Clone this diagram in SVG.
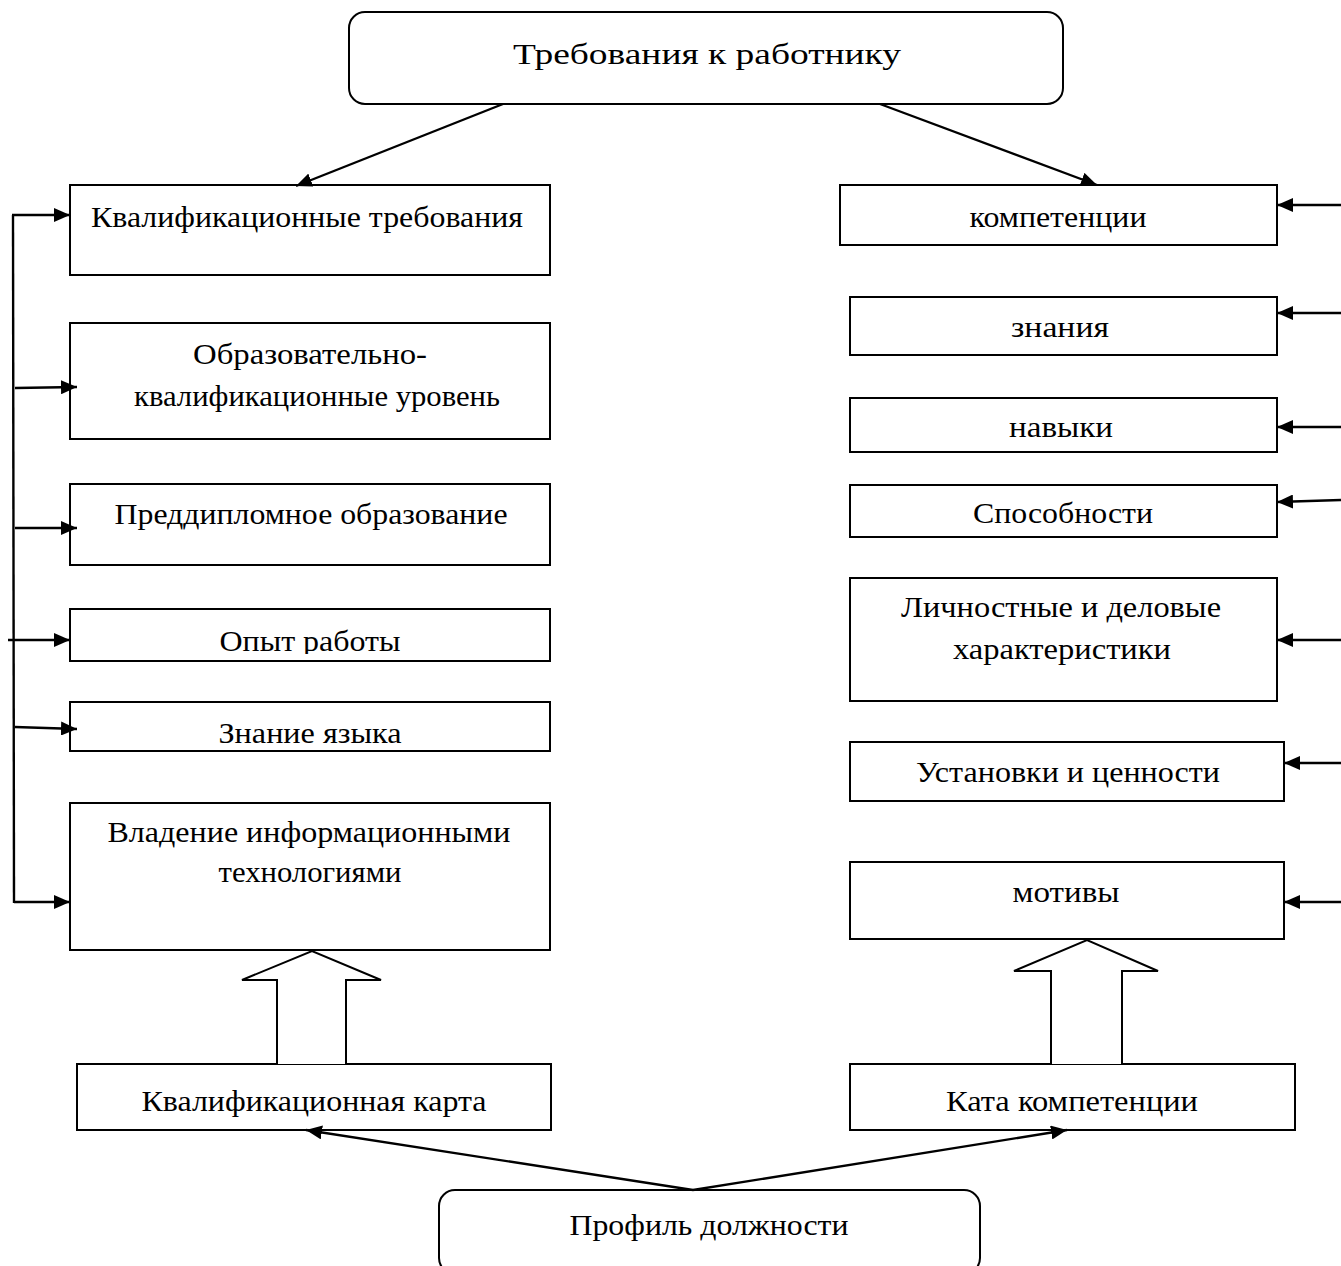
<svg xmlns="http://www.w3.org/2000/svg" width="1341" height="1266" viewBox="0 0 1341 1266">
<style>
.box{fill:#fff;stroke:#000;stroke-width:2}
.t{font-family:"Liberation Serif","Times New Roman",serif;font-size:30px;fill:#000;text-anchor:middle}
.c{fill:none;stroke:#000;stroke-width:2.4}
.blk{fill:#fff;stroke:#000;stroke-width:2;stroke-linejoin:miter}
</style>
<defs>
<marker id="ah" markerUnits="userSpaceOnUse" markerWidth="18" markerHeight="14" refX="16" refY="7" orient="auto">
<path d="M0,0 L16,7 L0,14 Z" fill="#000"/>
</marker>
<clipPath id="clipOpyt"><rect x="70" y="600" width="480" height="54"/></clipPath>
</defs>
<rect width="1341" height="1266" fill="#fff"/>

<g id="top">
<rect class="box" x="349" y="12" width="714" height="92" rx="16"/>
<text class="t" x="707" y="64" font-size="38" textLength="388" lengthAdjust="spacingAndGlyphs">Требования к работнику</text>
</g>

<g id="kvalif-treb">
<rect class="box" x="70" y="185" width="480" height="90"/>
<text class="t" x="307" y="227" textLength="432" lengthAdjust="spacingAndGlyphs">Квалификационные требования</text>
</g>
<g id="obraz">
<rect class="box" x="70" y="323" width="480" height="116"/>
<text class="t" x="310" y="364" textLength="234" lengthAdjust="spacingAndGlyphs">Образовательно-</text>
<text class="t" x="317" y="406" textLength="366" lengthAdjust="spacingAndGlyphs">квалификационные уровень</text>
</g>
<g id="preddipl">
<rect class="box" x="70" y="484" width="480" height="81"/>
<text class="t" x="311" y="524" textLength="393" lengthAdjust="spacingAndGlyphs">Преддипломное образование</text>
</g>
<g id="opyt">
<rect class="box" x="70" y="609" width="480" height="52"/>
<text class="t" x="310" y="651" textLength="181" lengthAdjust="spacingAndGlyphs" clip-path="url(#clipOpyt)">Опыт работы</text>
</g>
<g id="yazyk">
<rect class="box" x="70" y="702" width="480" height="49"/>
<text class="t" x="310" y="743" textLength="183" lengthAdjust="spacingAndGlyphs">Знание языка</text>
</g>
<g id="it">
<rect class="box" x="70" y="803" width="480" height="147"/>
<text class="t" x="309" y="842" textLength="403" lengthAdjust="spacingAndGlyphs">Владение информационными</text>
<text class="t" x="310" y="882" textLength="183" lengthAdjust="spacingAndGlyphs">технологиями</text>
</g>
<g id="kvalif-karta">
<rect class="box" x="77" y="1064" width="474" height="66"/>
<text class="t" x="314" y="1111" textLength="345" lengthAdjust="spacingAndGlyphs">Квалификационная карта</text>
</g>

<g id="kompet">
<rect class="box" x="840" y="185" width="437" height="60"/>
<text class="t" x="1058" y="227" textLength="177" lengthAdjust="spacingAndGlyphs">компетенции</text>
</g>
<g id="znaniya">
<rect class="box" x="850" y="297" width="427" height="58"/>
<text class="t" x="1060" y="337" textLength="98" lengthAdjust="spacingAndGlyphs">знания</text>
</g>
<g id="navyki">
<rect class="box" x="850" y="398" width="427" height="54"/>
<text class="t" x="1061" y="437" textLength="104" lengthAdjust="spacingAndGlyphs">навыки</text>
</g>
<g id="sposob">
<rect class="box" x="850" y="485" width="427" height="52"/>
<text class="t" x="1063" y="523" textLength="180" lengthAdjust="spacingAndGlyphs">Способности</text>
</g>
<g id="lichn">
<rect class="box" x="850" y="578" width="427" height="123"/>
<text class="t" x="1061" y="617" textLength="320" lengthAdjust="spacingAndGlyphs">Личностные и деловые</text>
<text class="t" x="1062" y="659" textLength="218" lengthAdjust="spacingAndGlyphs">характеристики</text>
</g>
<g id="ustanovki">
<rect class="box" x="850" y="742" width="434" height="59"/>
<text class="t" x="1068" y="782" textLength="304" lengthAdjust="spacingAndGlyphs">Установки и ценности</text>
</g>
<g id="motivy">
<rect class="box" x="850" y="862" width="434" height="77"/>
<text class="t" x="1066" y="902" textLength="107" lengthAdjust="spacingAndGlyphs">мотивы</text>
</g>
<g id="kata">
<rect class="box" x="850" y="1064" width="445" height="66"/>
<text class="t" x="1072" y="1111" textLength="252" lengthAdjust="spacingAndGlyphs">Ката компетенции</text>
</g>

<g id="profil">
<rect class="box" x="439" y="1190" width="541" height="84" rx="16"/>
<text class="t" x="709" y="1235" textLength="279" lengthAdjust="spacingAndGlyphs">Профиль должности</text>
</g>

<g id="block-arrows">
<path class="blk" d="M277,1064 L277,980 L242,980 L312,951 L381,980 L346,980 L346,1064"/>
<path class="blk" d="M1051,1064 L1051,971 L1014,971 L1087,940 L1158,971 L1122,971 L1122,1064"/>
</g>

<g id="connectors">
<line class="c" x1="503" y1="104" x2="296" y2="186" marker-end="url(#ah)"/>
<line class="c" x1="880" y1="104" x2="1097" y2="185" marker-end="url(#ah)"/>
<line class="c" x1="693" y1="1190" x2="306" y2="1130" marker-end="url(#ah)"/>
<line class="c" x1="693" y1="1190" x2="1067" y2="1130" marker-end="url(#ah)"/>

<line class="c" x1="13" y1="215" x2="14" y2="903"/>
<line class="c" x1="12" y1="215" x2="70" y2="215" marker-end="url(#ah)"/>
<line class="c" x1="15" y1="388" x2="77" y2="387" marker-end="url(#ah)"/>
<line class="c" x1="15" y1="528" x2="77" y2="528" marker-end="url(#ah)"/>
<line class="c" x1="8" y1="640" x2="70" y2="640" marker-end="url(#ah)"/>
<line class="c" x1="15" y1="727" x2="77" y2="729" marker-end="url(#ah)"/>
<line class="c" x1="14" y1="902" x2="70" y2="902" marker-end="url(#ah)"/>

<line class="c" x1="1341" y1="205" x2="1277" y2="205" marker-end="url(#ah)"/>
<line class="c" x1="1341" y1="313" x2="1277" y2="313" marker-end="url(#ah)"/>
<line class="c" x1="1341" y1="427" x2="1277" y2="427" marker-end="url(#ah)"/>
<line class="c" x1="1341" y1="500" x2="1277" y2="502" marker-end="url(#ah)"/>
<line class="c" x1="1341" y1="640" x2="1277" y2="640" marker-end="url(#ah)"/>
<line class="c" x1="1341" y1="763" x2="1284" y2="763" marker-end="url(#ah)"/>
<line class="c" x1="1341" y1="902" x2="1284" y2="902" marker-end="url(#ah)"/>
</g>
</svg>
